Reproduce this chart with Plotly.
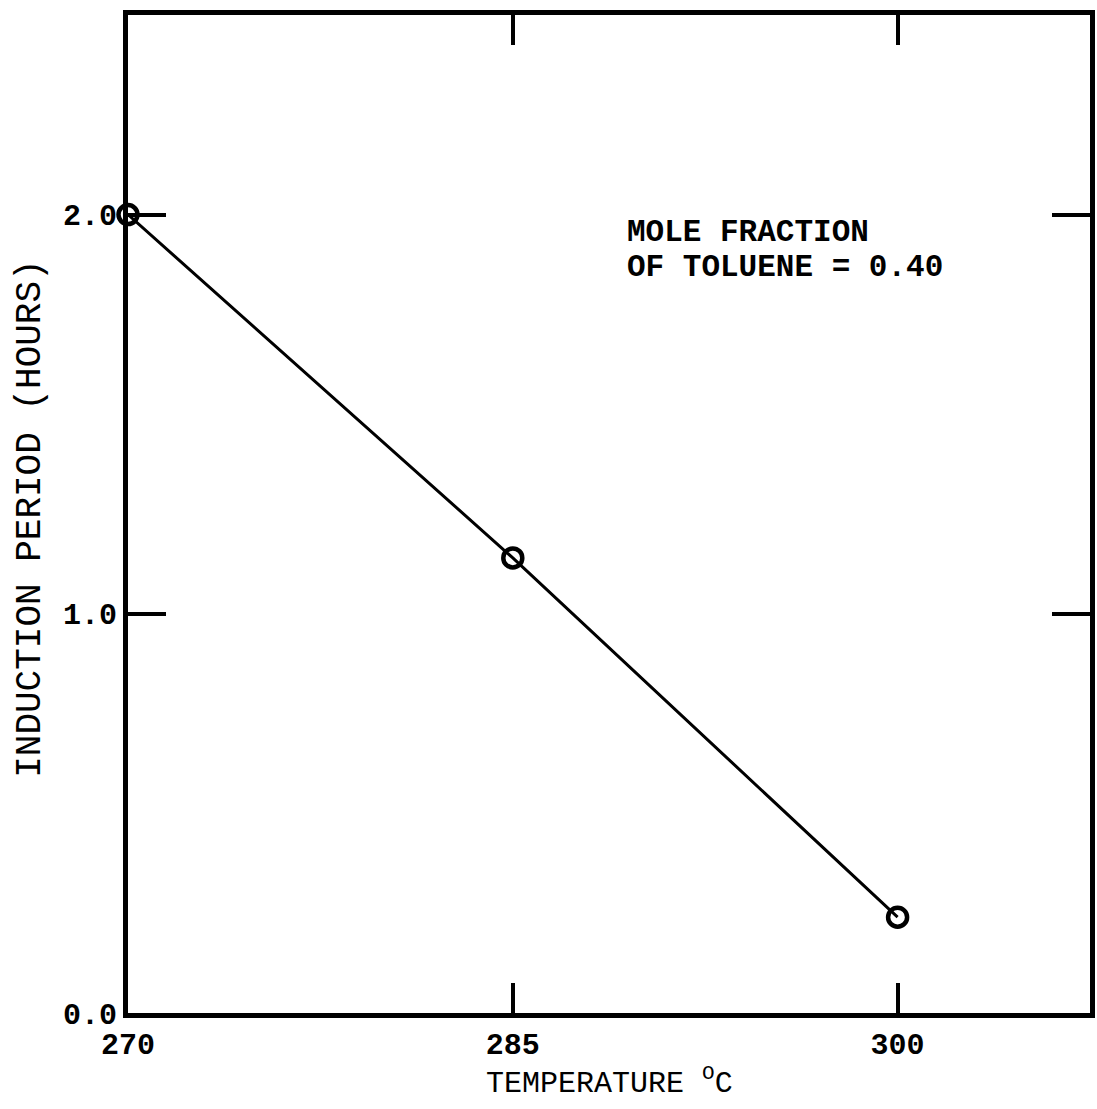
import plotly.graph_objects as go

temperature = [270, 285, 300]
induction_hours = [2.0, 1.14, 0.24]
x_ticks = [270, 285, 300]
y_ticks = [0.0, 1.0, 2.0]
y_tick_labels = ["0.0", "1.0", "2.0"]
note_lines = ["MOLE FRACTION", "OF TOLUENE = 0.40"]
x_title = "TEMPERATURE <sup>O</sup>C"
y_title = "INDUCTION PERIOD (HOURS)"

FONT = "Liberation Mono, Courier New, monospace"

fig = go.Figure()
fig.add_trace(go.Scatter(
    x=temperature, y=induction_hours,
    mode="lines+markers",
    line=dict(color="black", width=3),
    marker=dict(symbol="circle-open", size=19, color="black", line=dict(width=4.5)),
    cliponaxis=False,
    showlegend=False,
))

for line_text, yp in zip(note_lines, [0.7816, 0.7465]):
    fig.add_annotation(
        x=0.517, y=yp, xref="paper", yref="paper",
        text="<b>" + line_text + "</b>", showarrow=False, align="left",
        xanchor="left", yanchor="middle",
        font=dict(family=FONT, size=31, color="black"),
    )

# axis titles placed as annotations for exact positioning
fig.add_annotation(
    x=0.5, y=-0.069, xref="paper", yref="paper",
    text=x_title, showarrow=False,
    xanchor="center", yanchor="middle",
    font=dict(family=FONT, size=30, color="black"),
)
fig.add_annotation(
    x=-0.101, y=0.495, xref="paper", yref="paper",
    text=y_title, showarrow=False, textangle=-90,
    xanchor="center", yanchor="middle",
    font=dict(family=FONT, size=36, color="black"),
)

fig.update_xaxes(
    range=[270, 307.5],
    tickvals=x_ticks, ticktext=["<b>%d</b>" % v for v in x_ticks],
    ticks="inside", ticklen=30, tickwidth=4, tickcolor="black",
    showline=True, linecolor="black", linewidth=5, mirror="ticks",
    showgrid=False, zeroline=False,
    tickfont=dict(family=FONT, size=30, color="black"),
)
fig.update_yaxes(
    range=[0, 2.5],
    tickvals=y_ticks, ticktext=["<b>%s</b>" % s for s in y_tick_labels],
    ticks="inside", ticklen=38, tickwidth=4, tickcolor="black",
    showline=True, linecolor="black", linewidth=5, mirror="ticks",
    showgrid=False, zeroline=False,
    tickfont=dict(family=FONT, size=30, color="black"),
)

fig.update_layout(
    width=1097, height=1109,
    margin=dict(l=128, r=2, t=15, b=96),
    plot_bgcolor="white", paper_bgcolor="white",
    font=dict(family=FONT, color="black"),
)

fig.write_html("out.html")
